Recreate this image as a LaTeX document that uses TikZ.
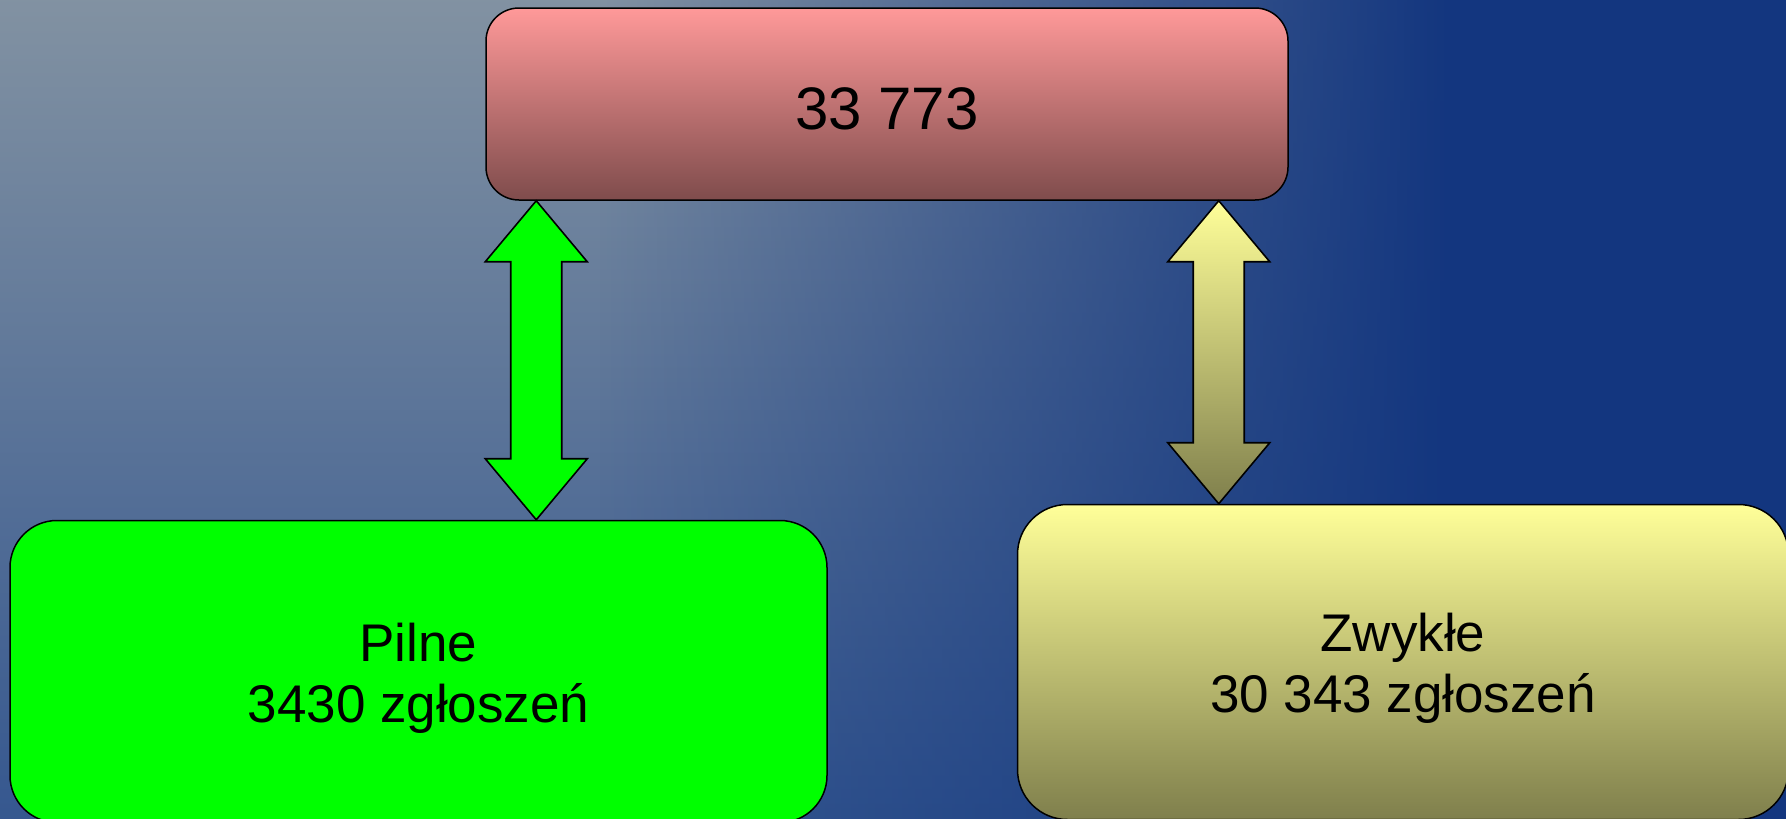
\documentclass[tikz,border=0pt]{standalone}
\usepackage{fontspec}
\setmainfont{Liberation Sans}
\usetikzlibrary{calc, positioning, fadings}

\definecolor{bgtop}{HTML}{8292A2}
\definecolor{bgbottom}{HTML}{35578F}
\definecolor{bgdark}{HTML}{13367F}
\definecolor{totaltop}{HTML}{FF9999}
\definecolor{totalbottom}{HTML}{7F4C4C}
\definecolor{urgentfill}{HTML}{00FF00}
\definecolor{regulartop}{HTML}{FFFF99}
\definecolor{regularbottom}{HTML}{7F7F4C}

\tikzfading[name=navy_fade, left color=transparent!100, right color=transparent!0]

\tikzstyle{count_box}=[rectangle, draw=black, line width=1.5pt, align=center, inner sep=0pt]
\tikzstyle{total_box}=[count_box, rounded corners=33pt, top color=totaltop, bottom color=totalbottom,
   minimum width=802pt, minimum height=192pt, font=\fontsize{60}{66}\selectfont]
\tikzstyle{urgent_box}=[count_box, rounded corners=47pt, fill=urgentfill,
   minimum width=817pt, minimum height=302pt, font=\fontsize{53}{61}\selectfont]
\tikzstyle{regular_box}=[count_box, rounded corners=50pt, top color=regulartop, bottom color=regularbottom,
   minimum width=771pt, minimum height=315pt, font=\fontsize{53}{61}\selectfont]
\tikzstyle{fat_arrow}=[draw=black, line width=1.6pt, line join=miter]

% first line a bit lower, as in the slide
\newcommand{\firstline}{\rule{0pt}{51pt}}

% fat double arrow between two tips: style, upper tip, lower tip
\newcommand{\fatarrow}[3]{%
  \draw[fat_arrow, #1] (#2) -- ++(51,61) -- ++(-25.5,0)
     -- ($(#3)+(25.5,-61)$) -- ++(25.5,0) -- (#3) -- ++(-51,-61) -- ++(25.5,0)
     -- ($(#2)+(-25.5,61)$) -- ++(-25.5,0) -- cycle;}

\begin{document}
\begin{tikzpicture}[x=1pt, y=-1pt]

\useasboundingbox (0,0) rectangle (1786,819);

% background
\shade[top color=bgtop, bottom color=bgbottom] (-5,-5) rectangle (1791,824);
\fill[bgdark, path fading=navy_fade] (600,-5) rectangle (1450,824);
\fill[bgdark] (1449,-5) rectangle (1791,824);

% boxes
\node [total_box]   (total)   at (887,104)                                              {\firstline 33 773};
\node [urgent_box]  (urgent)  [below=319pt of total.south west, anchor=north west, xshift=-476pt] {\firstline Pilne\\3430 zgłoszeń};
\node [regular_box] (regular) [below=303pt of total.south east, anchor=north west, xshift=-272pt] {\firstline Zwykłe\\30 343 zgłoszeń};

% arrow tips
\coordinate (urgent_top)  at ([xshift=51pt]total.south west);
\coordinate (urgent_tip)  at (urgent_top |- urgent.north);
\coordinate (regular_top) at ([xshift=-70pt]total.south east);
\coordinate (regular_tip) at (regular_top |- regular.north);

% arrows
\fatarrow{fill=urgentfill}{urgent_top}{urgent_tip}
\fatarrow{top color=regulartop, bottom color=regularbottom}{regular_top}{regular_tip}

\end{tikzpicture}
\end{document}
